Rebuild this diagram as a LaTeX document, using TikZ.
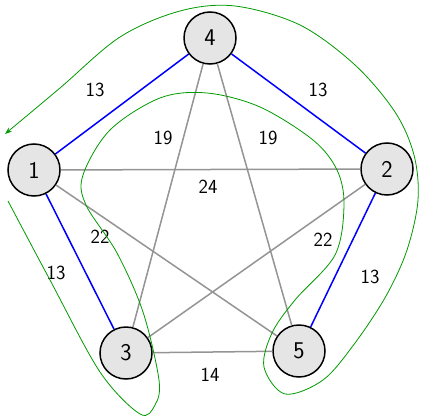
\documentclass[tikz,border=0pt]{standalone}
\usepackage{fontspec}
\usetikzlibrary{arrows.meta}
\begin{document}
\begin{tikzpicture}[x=1pt,y=-1pt,
  vert/.style={circle,draw=black,line width=1.5pt,fill=black!10,minimum size=52pt,inner sep=0pt,font=\sffamily\fontsize{24}{26}\selectfont},
  blueedge/.style={draw=blue,line width=1.5pt},
  grayedge/.style={draw=black!42,line width=1.5pt},
  wlabel/.style={font=\sffamily\fontsize{20}{22}\selectfont,inner sep=0pt},
  tour/.style={draw=green!60!black,line width=0.8pt}]
\useasboundingbox (0,0) rectangle (422,417);
\node[vert] (v4) at (210,38) {4};
\node[vert] (v1) at (34,170) {1};
\node[vert] (v2) at (387,169) {2};
\node[vert] (v3) at (126,353) {3};
\node[vert] (v5) at (299,351) {5};
\path[grayedge] (v1) -- (v2);
\path[grayedge] (v1) -- (v5);
\path[grayedge] (v4) -- (v3);
\path[grayedge] (v4) -- (v5);
\path[grayedge] (v2) -- (v3);
\path[grayedge] (v3) -- (v5);
\path[blueedge] (v1) -- (v4);
\path[blueedge] (v4) -- (v2);
\path[blueedge] (v1) -- (v3);
\path[blueedge] (v2) -- (v5);
\node[wlabel] (l14a) at (95,90) {13};
\node[wlabel] (l42) at (318,90) {13};
\node[wlabel] (l43) at (163,138) {19};
\node[wlabel] (l45) at (268,138) {19};
\node[wlabel] (l12) at (208,187) {24};
\node[wlabel] (l15) at (100,237) {22};
\node[wlabel] (l23) at (323,240) {22};
\node[wlabel] (l13) at (56,273) {13};
\node[wlabel] (l25) at (370,277) {13};
\node[wlabel] (l35) at (210,375) {14};
\draw[tour,-{Stealth[length=7pt,width=5pt]}] plot[smooth,tension=0.55] coordinates {
(8,201) (50,280) (100,372) (140,414) (155,405) (159,380) (143,312) (117,253) (86,205) (83,175) (110,130) (160,98) (207,93) (260,107) (313,140) (337,170) (344,205) (335,255) (295,300) (272,333) (264,367) (285,394) (323,380) (355,343) (386,296) (407,250) (418,200) (414,155) (395,112) (355,65) (300,25) (235,6) (180,11) (120,37) (60,88) (5,134)};
\end{tikzpicture}
\end{document}
